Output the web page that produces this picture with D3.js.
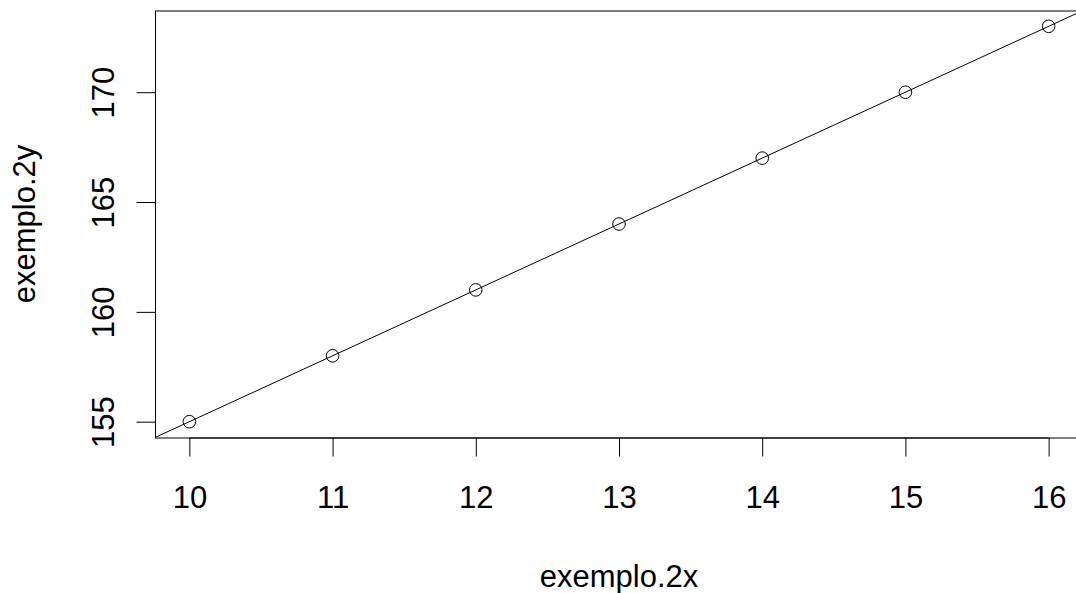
<!DOCTYPE html>
<html>
<head>
<meta charset="utf-8">
<script src="https://cdn.jsdelivr.net/npm/d3@7"></script>
<style>
  html, body { margin: 0; padding: 0; background: #fff; }
  svg { display: block; }
  text { font-family: "Liberation Sans", Arial, sans-serif; fill: #000; }
</style>
</head>
<body>
<div id="chart"></div>
<script>
// Observations
const exemploX = [10, 11, 12, 13, 14, 15, 16];
const exemploY = [155, 158, 161, 164, 167, 170, 173];
// Fitted line y = a + b x
const fitCoef = [125, 3];
// Axis ticks
const xTicks = [10, 11, 12, 13, 14, 15, 16];
const yTicks = [155, 160, 165, 170];
const xLabel = "exemplo.2x";
const yLabel = "exemplo.2y";

const W = 1076, H = 593;
const FS = 31;
const plot = { left: 155, right: 1083, top: 10.5, bottom: 437.5 };

const svg = d3.select("#chart").append("svg")
  .attr("width", W).attr("height", H);

// Axis ranges padded by 4% like base graphics
function padded(ext) {
  const d = (ext[1] - ext[0]) * 0.04;
  return [ext[0] - d, ext[1] + d];
}
const x = d3.scaleLinear().domain(padded(d3.extent(exemploX))).range([plot.left, plot.right]);
const y = d3.scaleLinear().domain(padded(d3.extent(exemploY))).range([plot.bottom, plot.top]);

svg.append("defs").append("clipPath").attr("id", "plotclip")
  .append("rect")
  .attr("x", plot.left).attr("y", plot.top)
  .attr("width", plot.right - plot.left).attr("height", plot.bottom - plot.top);

// Plot frame
svg.append("rect")
  .attr("x", plot.left + 0.5).attr("y", plot.top + 0.5)
  .attr("width", plot.right - plot.left).attr("height", plot.bottom - plot.top)
  .attr("fill", "none").attr("stroke", "#000").attr("stroke-width", 1);

// Regression line across the whole plot region
const xd = x.domain();
svg.append("line")
  .attr("clip-path", "url(#plotclip)")
  .attr("x1", x(xd[0])).attr("y1", y(fitCoef[0] + fitCoef[1] * xd[0]))
  .attr("x2", x(xd[1])).attr("y2", y(fitCoef[0] + fitCoef[1] * xd[1]))
  .attr("stroke", "#000").attr("stroke-width", 1);

// Points (open circles)
svg.append("g").selectAll("circle")
  .data(exemploX.map((v, i) => [v, exemploY[i]]))
  .join("circle")
  .attr("cx", d => x(d[0])).attr("cy", d => y(d[1]))
  .attr("r", 6.3)
  .attr("fill", "none").attr("stroke", "#000").attr("stroke-width", 1);

// Bottom axis
const xAxis = d3.axisBottom(x).tickValues(xTicks).tickSize(19).tickFormat(d3.format("d"));
const gx = svg.append("g").attr("transform", `translate(0,${plot.bottom})`).call(xAxis);
gx.select(".domain").attr("d", `M${x(xTicks[0])},0.5H${x(xTicks[xTicks.length - 1])}`)
  .attr("stroke", "#000");
gx.selectAll(".tick line").attr("stroke", "#000");
gx.selectAll(".tick text")
  .attr("font-size", FS).attr("font-family", "Liberation Sans, Arial, sans-serif")
  .attr("fill", "#000").attr("dy", null).attr("y", 70);

// Left axis
const yAxis = d3.axisLeft(y).tickValues(yTicks).tickSize(19).tickFormat(d3.format("d"));
const gy = svg.append("g").attr("transform", `translate(${plot.left + 0.5},0)`).call(yAxis);
gy.select(".domain").attr("d", `M0,${y(yTicks[0])}V${y(yTicks[yTicks.length - 1])}`)
  .attr("stroke", "#000");
gy.selectAll(".tick line").attr("stroke", "#000");
gy.selectAll(".tick text")
  .attr("font-size", FS).attr("font-family", "Liberation Sans, Arial, sans-serif")
  .attr("fill", "#000")
  .attr("x", null).attr("dy", null)
  .attr("text-anchor", "middle")
  .attr("transform", "translate(-42,0) rotate(-90)");

// Axis titles
svg.append("text")
  .attr("x", (plot.left + plot.right) / 2).attr("y", 587)
  .attr("text-anchor", "middle").attr("font-size", FS)
  .text(xLabel);
svg.append("text")
  .attr("transform", `translate(35,${(plot.top + plot.bottom) / 2}) rotate(-90)`)
  .attr("text-anchor", "middle").attr("font-size", FS)
  .text(yLabel);
</script>
</body>
</html>
